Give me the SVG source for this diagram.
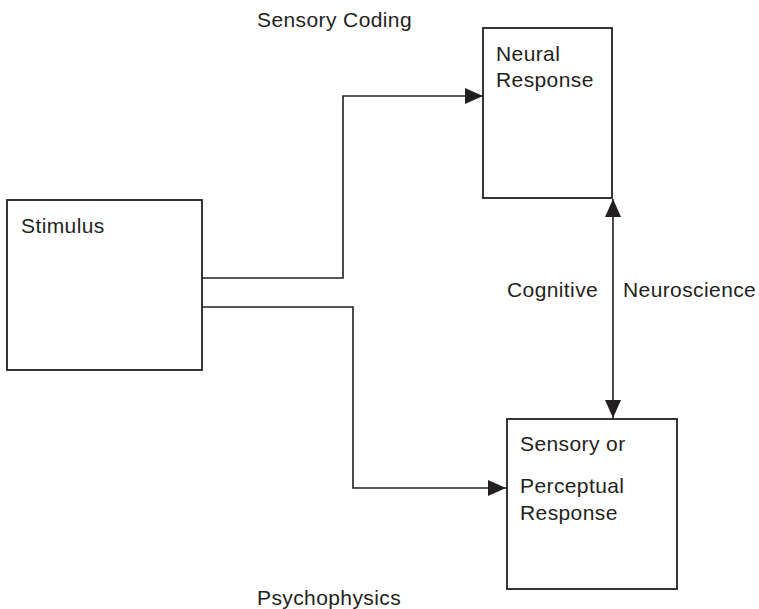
<svg xmlns="http://www.w3.org/2000/svg" width="759" height="609" viewBox="0 0 759 609">
<style>
.box{fill:#fff;stroke:#231f20;stroke-width:1.8}
.line{fill:none;stroke:#231f20;stroke-width:1.6}
text{font-family:"Liberation Sans",Arial,Helvetica,sans-serif;font-size:21px;fill:#231f20;letter-spacing:0.4px}
</style>
<defs>
<marker id="ah" markerUnits="userSpaceOnUse" markerWidth="19" markerHeight="16" refX="18" refY="8" orient="auto-start-reverse" viewBox="0 0 19 16">
<path d="M0,0 L18,8 L0,16 Z" fill="#231f20"/>
</marker>
</defs>
<rect width="759" height="609" fill="#fff"/>
<g id="connectors">
<path class="line" d="M202,278 H343 V96 H483" marker-end="url(#ah)"/>
<path class="line" d="M202,307 H353 V488 H506" marker-end="url(#ah)"/>
<path class="line" d="M613,199 V418" marker-start="url(#ah)" marker-end="url(#ah)"/>
</g>
<g id="stimulus">
<rect class="box" x="7" y="200" width="195" height="170"/>
<text x="21" y="233">Stimulus</text>
</g>
<g id="neural">
<rect class="box" x="483" y="28" width="129" height="170"/>
<text x="496" y="61">Neural</text>
<text x="496" y="87">Response</text>
</g>
<g id="perceptual">
<rect class="box" x="507" y="419" width="170" height="170"/>
<text x="520" y="451">Sensory or</text>
<text x="520" y="493">Perceptual</text>
<text x="520" y="520">Response</text>
</g>
<g id="labels">
<text x="257" y="27">Sensory Coding</text>
<text x="507" y="297">Cognitive</text>
<text x="623" y="297">Neuroscience</text>
<text x="257" y="605">Psychophysics</text>
</g>
</svg>
